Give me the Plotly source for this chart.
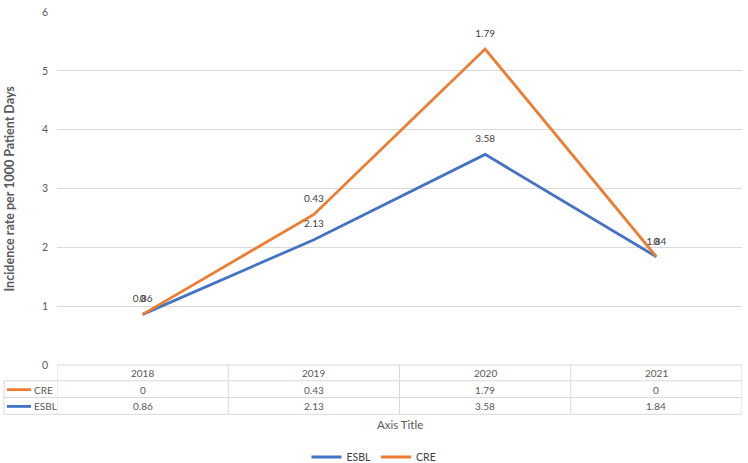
import numpy as np
import plotly.graph_objects as go

years = ["2018", "2019", "2020", "2021"]
esbl = [0.86, 2.13, 3.58, 1.84]
cre = [0, 0.43, 1.79, 0]
colors = {"ESBL": "#4472C4", "CRE": "#ED7D31"}
y_ticks = [0, 1, 2, 3, 4, 5, 6]

# stacked line: CRE drawn on top of ESBL
esbl_arr = np.array(esbl)
cre_stacked = esbl_arr + np.array(cre)

W, H = 748, 463
L, R, T, B = 57, 6, 7, 98
PW, PH = W - L - R, H - T - B

def px(p):
    return (p - L) / PW

def py(p):
    return (H - B - p) / PH

FONT = "Lato"
GRAY = "#595959"
GRID = "#D9D9D9"
LBL = dict(family=FONT, size=10, color="#404040")

fig = go.Figure()
xi = list(range(len(years)))
for name, yv in [("ESBL", esbl_arr), ("CRE", cre_stacked)]:
    fig.add_trace(go.Scatter(
        x=xi, y=yv, name=name, mode="lines",
        line=dict(color=colors[name], width=2.8), hoverinfo="skip",
    ))
for name, yv, vals in [("ESBL", esbl_arr, esbl), ("CRE", cre_stacked, cre)]:
    fig.add_trace(go.Scatter(
        x=xi, y=yv, mode="markers+text", showlegend=False,
        marker=dict(size=14, opacity=0),
        text=[f"{v:g}" for v in vals], textposition="top center",
        textfont=LBL, hoverinfo="skip",
    ))

shapes = []
line_style = dict(color=GRID, width=1)
shapes.append(dict(type="line", xref="paper", yref="paper", x0=0, x1=1, y0=py(365), y1=py(365), line=line_style))
for yy in [381, 398, 415]:
    shapes.append(dict(type="line", xref="paper", yref="paper", x0=px(4), x1=1, y0=py(yy), y1=py(yy), line=line_style))
shapes.append(dict(type="line", xref="paper", yref="paper", x0=px(4), x1=px(4), y0=py(381), y1=py(415), line=line_style))
for k in range(len(years) + 1):
    shapes.append(dict(type="line", xref="x", yref="paper", x0=k - 0.5, x1=k - 0.5, y0=py(365), y1=py(415), line=line_style))

annotations = []
tfont = dict(family=FONT, size=10, color=GRAY)
def ann(x, y, text, xref="paper", xanchor="center", **kw):
    d = dict(x=x, y=y, xref=xref, yref="paper", text=text, showarrow=False,
             xanchor=xanchor, yanchor="middle", font=tfont)
    d.update(kw)
    annotations.append(d)

for k, yr in enumerate(years):
    ann(k, py(373), yr, xref="x")
    ann(k, py(390), f"{cre[k]:g}", xref="x")
    ann(k, py(407), f"{esbl[k]:g}", xref="x")

for name, yy in [("CRE", 390), ("ESBL", 407)]:
    shapes.append(dict(type="line", xref="paper", yref="paper", x0=px(7), x1=px(31), y0=py(yy), y1=py(yy),
                       line=dict(color=colors[name], width=2.8)))
    ann(px(32), py(yy), name, xanchor="left")

ann(0.5, py(425), "Axis Title", font=dict(family=FONT, size=11.5, color=GRAY))
ann(px(9), py(186), "<b>Incidence rate per 1000 Patient Days</b>", textangle=-90,
    font=dict(family=FONT, size=12.5, color=GRAY))

fig.update_layout(
    width=W, height=H,
    margin=dict(l=L, r=R, t=T, b=B),
    paper_bgcolor="white", plot_bgcolor="white",
    showlegend=True,
    legend=dict(orientation="h", xref="container", yref="container", x=0.5, xanchor="center",
                y=(H - 457) / H, yanchor="middle", itemwidth=30,
                font=dict(family=FONT, size=10.5, color="#404040")),
    xaxis=dict(range=[-0.5, len(years) - 0.5], showticklabels=False, showgrid=False, zeroline=False,
               showline=False, fixedrange=True),
    yaxis=dict(range=[0, 6], tickvals=y_ticks, gridcolor=GRID, gridwidth=1, zeroline=False, showline=False,
               tickfont=dict(family=FONT, size=10.5, color=GRAY), ticklabelstandoff=8),
    shapes=shapes, annotations=annotations,
)

fig.write_html("out.html")
